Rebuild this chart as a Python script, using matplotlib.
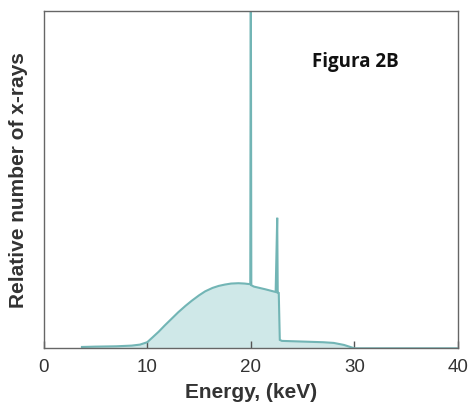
import matplotlib
matplotlib.use("Agg")
import matplotlib.pyplot as plt

# Energy (keV) and relative number of x-rays (fraction of axis height)
energy = [3.7, 5.0, 7.0, 8.5, 9.3, 10.0, 10.5, 11.1, 11.7, 12.4, 13.0, 13.7, 14.3,
          15.0, 15.6, 16.3, 16.9, 17.5, 18.1, 18.8, 19.4, 19.95, 20.0, 20.05,
          20.3, 21.4, 22.4, 22.55, 22.6, 22.7, 22.8, 23.0, 25.0, 27.0, 28.0,
          29.0, 29.6, 30.0, 40.0]
counts = [0.004, 0.005, 0.006, 0.008, 0.011, 0.018, 0.032, 0.049, 0.068, 0.089,
          0.107, 0.126, 0.141, 0.157, 0.169, 0.179, 0.185, 0.189, 0.192, 0.193,
          0.192, 0.190, 1.200, 0.187, 0.183, 0.175, 0.167, 0.387, 0.165, 0.164,
          0.025, 0.022, 0.020, 0.018, 0.016, 0.010, 0.004, 0.0, 0.0]
xticks = [0, 10, 20, 30, 40]

fig = plt.figure(figsize=(4.69, 4.03), dpi=100)
ax = fig.add_axes([0.093, 0.1357, 0.8835, 0.837])

ax.fill_between(energy, counts, 0, color="#cfe8e8", linewidth=0)
ax.plot(energy, counts, color="#72b5b5", lw=1.5, solid_joinstyle="miter")

ax.set_xlim(0, 40)
ax.set_ylim(0, 1)
ax.set_xticks(xticks)
ax.set_yticks([])
ax.tick_params(axis="x", direction="in", length=5, width=1, color="#555555",
               labelsize=13.5, labelcolor="#333333", pad=8)
for lbl in ax.get_xticklabels():
    lbl.set_fontfamily("Liberation Sans")
for s in ax.spines.values():
    s.set_color("#666666")
    s.set_linewidth(1)

ax.set_xlabel("Energy, (keV)", fontsize=15, fontweight="bold",
              family="Liberation Sans", color="#333333", labelpad=5)
ax.set_ylabel("Relative number of x-rays", fontsize=15, fontweight="bold",
              family="Liberation Sans", color="#333333", labelpad=11)
ax.text(30.1, 0.85, "Figura 2B", fontsize=13.5, fontweight="bold",
        family="Open Sans", color="#111111", ha="center", va="center")

fig.savefig("out.png", dpi=100)
